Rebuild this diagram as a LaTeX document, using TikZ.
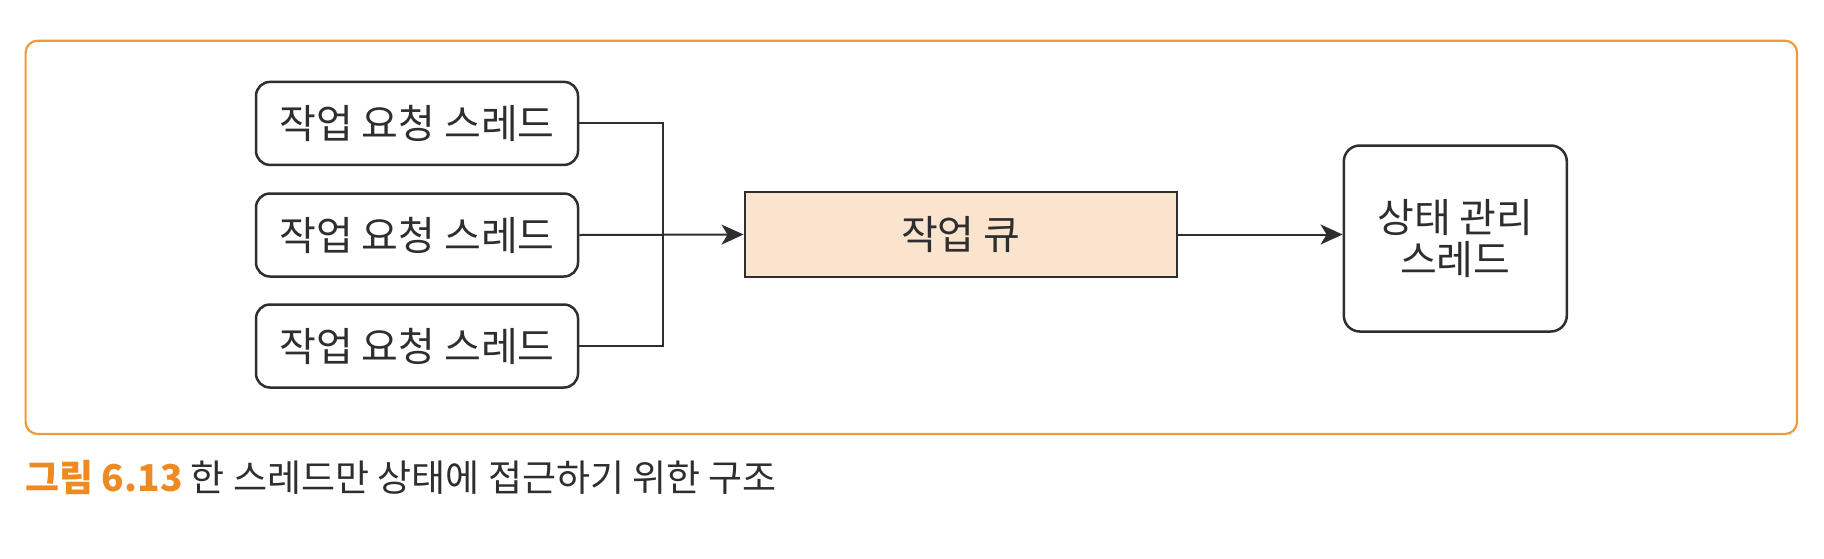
\documentclass[tikz,border=0pt]{standalone}
\usepackage{fontspec}
\setmainfont{Noto Sans CJK KR}
\usetikzlibrary{arrows.meta}
\definecolor{frameorange}{HTML}{F29A3A}
\definecolor{capor}{HTML}{EE8A22}
\definecolor{queuefill}{HTML}{FBE4CD}
\definecolor{ink}{HTML}{2E2E2E}
\begin{document}
\begin{tikzpicture}[x=0.5pt,y=-0.5pt,
  reqbox/.style={draw=ink,line width=1.25pt,rounded corners=7pt,minimum width=161pt,minimum height=41.5pt,inner sep=0pt,font=\fontsize{20}{21}\selectfont,text=ink},
  queuebox/.style={draw=ink,line width=1.25pt,fill=queuefill,minimum width=216pt,minimum height=42.5pt,inner sep=0pt,font=\fontsize{20}{21}\selectfont,text=ink},
  statebox/.style={draw=ink,line width=1.25pt,rounded corners=8pt,minimum width=111.5pt,minimum height=93pt,inner sep=0pt,align=center,font=\fontsize{20}{21}\selectfont,text=ink},
  conn/.style={draw=ink,line width=1pt},
  arr/.style={conn,-{Stealth[length=11pt,width=10pt,inset=3pt]}}]
\useasboundingbox (0,0) rectangle (1824,558);
\fill[white] (0,0) rectangle (1824,558);
\draw[frameorange,line width=1.1pt,rounded corners=6pt] (25.6,40.7) rectangle (1797,434);
\node[reqbox] (r1) at (417,123.4) {작업 요청 스레드};
\node[reqbox] (r2) at (417,235) {작업 요청 스레드};
\node[reqbox] (r3) at (417,346) {작업 요청 스레드};
\node[queuebox] (q) at (960.8,234.5) {작업 큐};
\node[statebox] (s) at (1455.3,238.5) {상태 관리\\스레드};
\coordinate (j) at (663,235);
\draw[conn] (r1.east) -| (j);
\draw[conn] (r3.east) -| (j);
\draw[arr] (r2.east) -- (q.west);
\draw[arr] (q.east) -- (q.east -| s.west);
\node[anchor=west,inner sep=0pt,font=\fontsize{18.5}{20}\selectfont,text=ink] (cap) at (25,477) {\textcolor{capor}{\textbf{그림 6.13}} 한 스레드만 상태에 접근하기 위한 구조};
\end{tikzpicture}
\end{document}
